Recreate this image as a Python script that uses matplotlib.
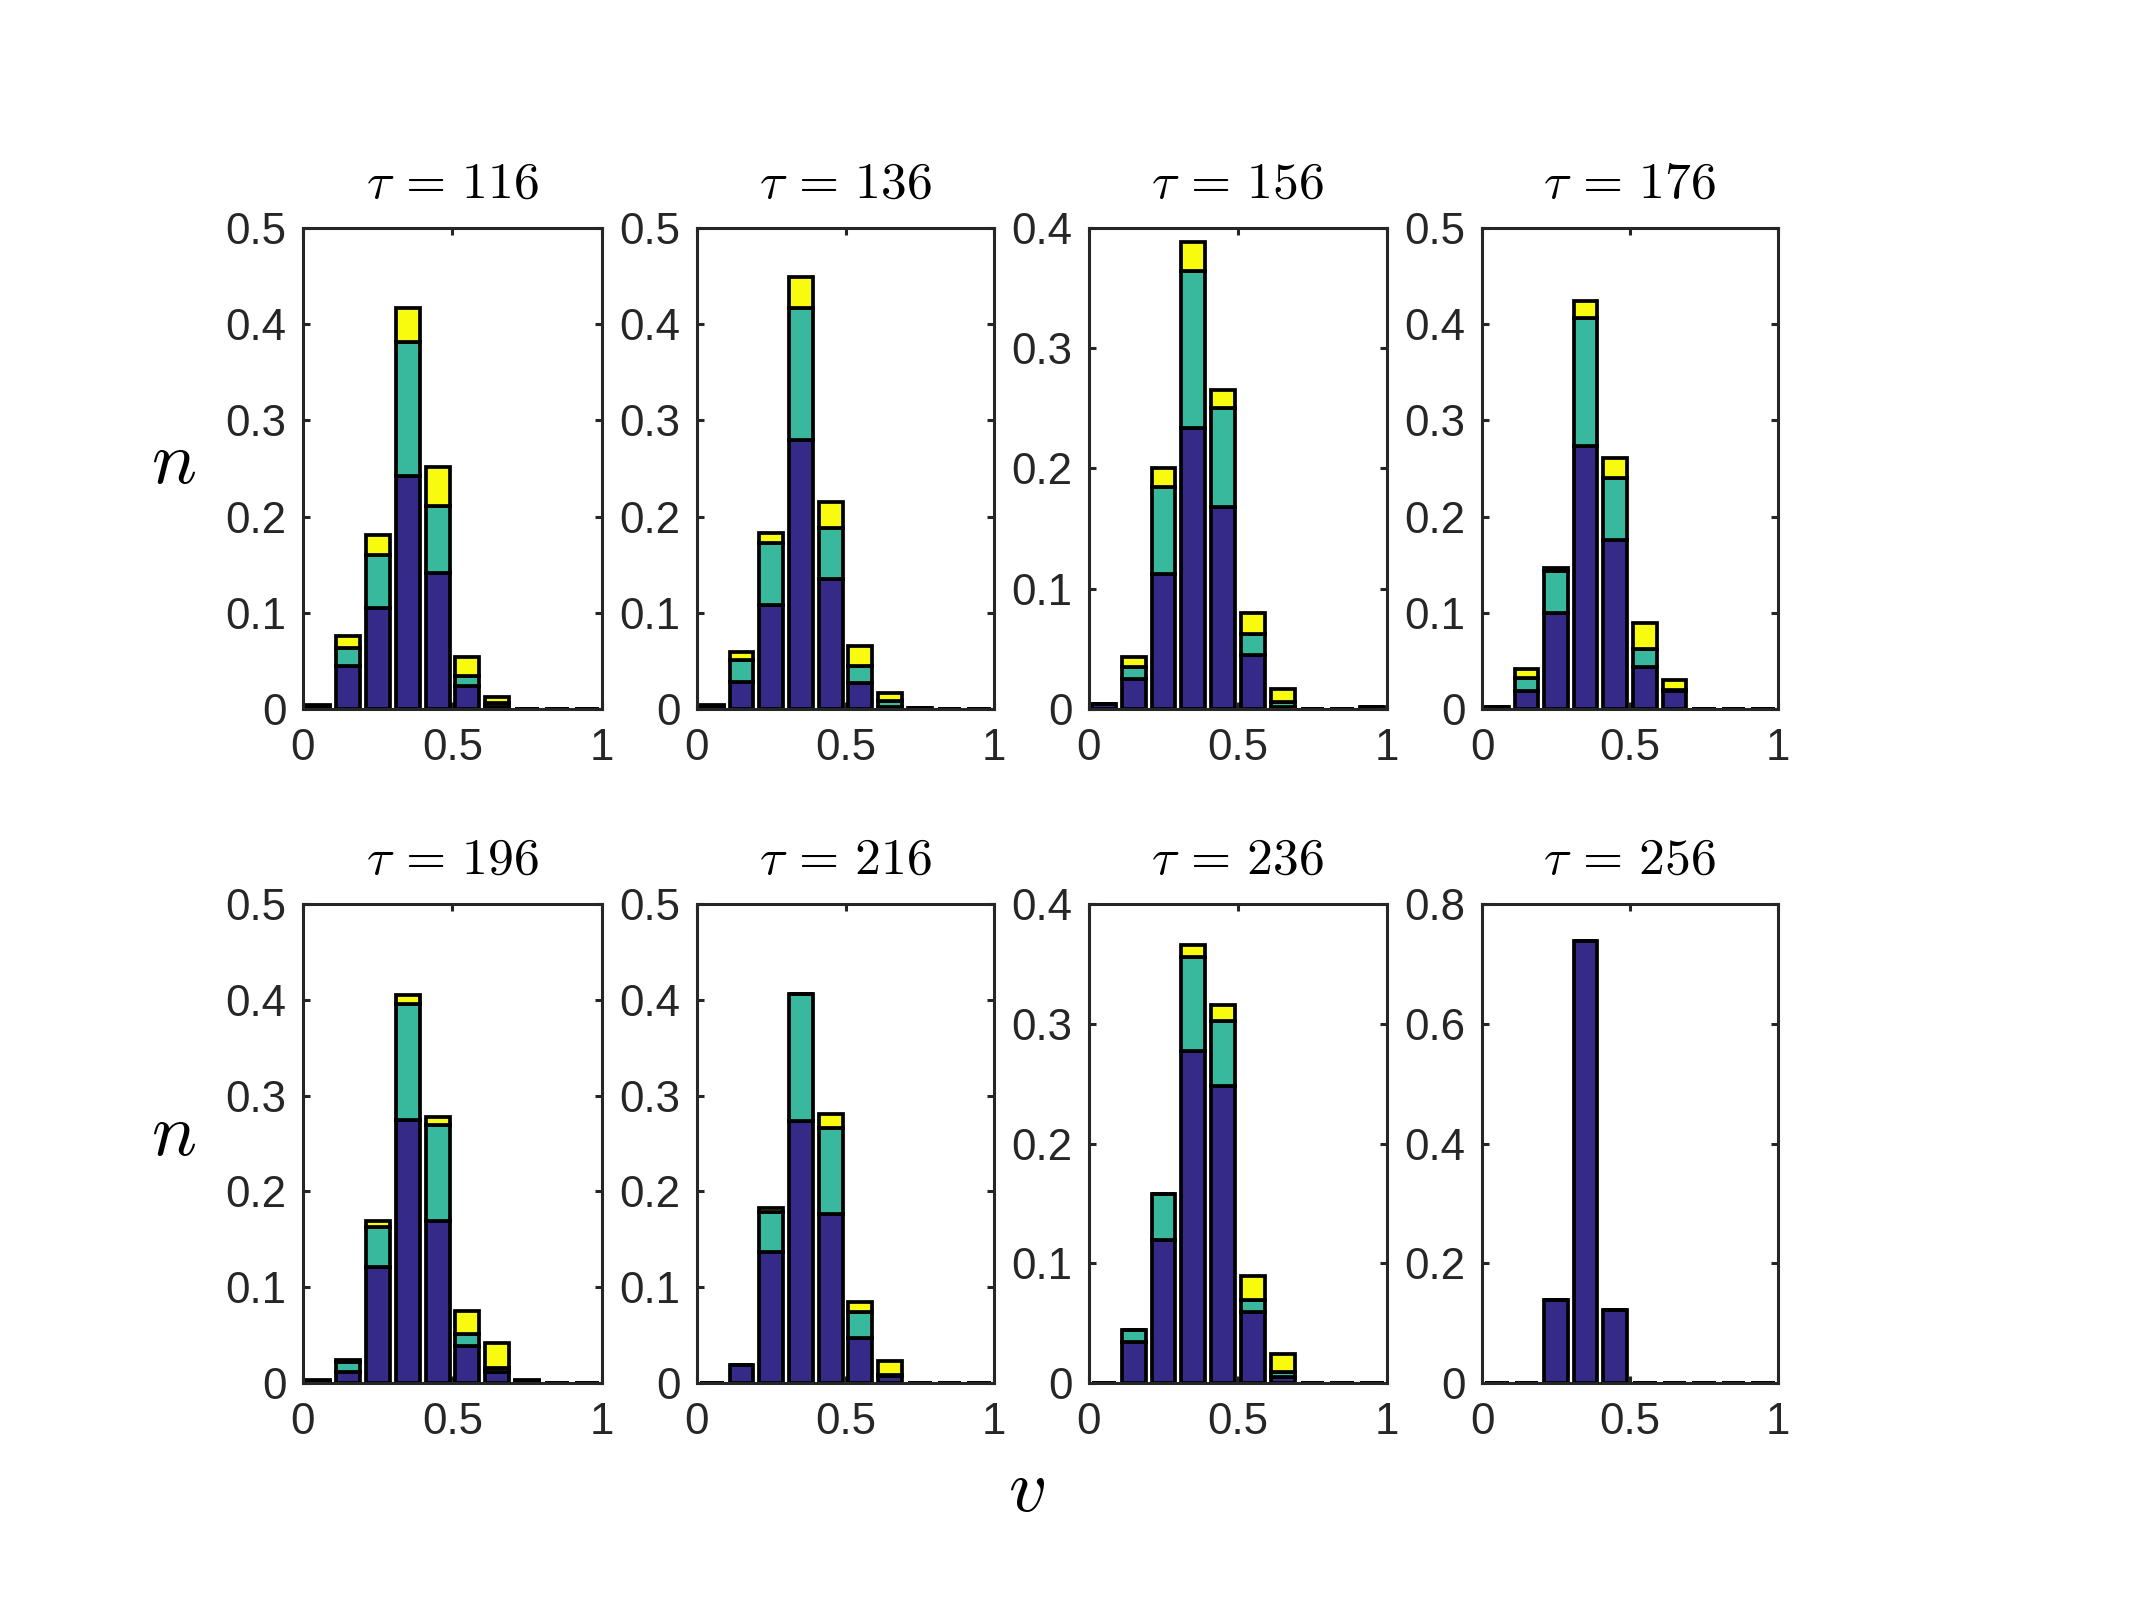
import matplotlib
matplotlib.use("Agg")
import matplotlib.pyplot as plt
import numpy as np
from matplotlib.ticker import FuncFormatter, MultipleLocator

plt.rcParams['font.family'] = ['Liberation Sans', 'DejaVu Sans']
plt.rcParams['mathtext.fontset'] = 'cm'

bin_centers = [0.05, 0.15, 0.25, 0.35, 0.45, 0.55, 0.65, 0.75, 0.85, 0.95]
taus = [116, 136, 156, 176, 196, 216, 236, 256]
ylims = [0.5, 0.5, 0.4, 0.5, 0.5, 0.5, 0.4, 0.8]
ysteps = [0.1, 0.1, 0.1, 0.1, 0.1, 0.1, 0.1, 0.2]

blue_116 = [0.003, 0.045, 0.105, 0.242, 0.141, 0.024, 0.002, 0, 0, 0]
teal_116 = [0.0005, 0.018, 0.055, 0.140, 0.070, 0.010, 0.004, 0, 0, 0]
yellow_116 = [0.0005, 0.013, 0.021, 0.035, 0.041, 0.020, 0.006, 0, 0, 0]

blue_136 = [0.003, 0.028, 0.108, 0.280, 0.135, 0.027, 0.002, 0.001, 0, 0]
teal_136 = [0.0005, 0.023, 0.065, 0.137, 0.053, 0.018, 0.006, 0, 0, 0]
yellow_136 = [0.0005, 0.008, 0.010, 0.032, 0.027, 0.021, 0.009, 0, 0, 0]

blue_156 = [0.004, 0.025, 0.112, 0.234, 0.168, 0.045, 0.002, 0, 0, 0.002]
teal_156 = [0, 0.010, 0.073, 0.130, 0.082, 0.017, 0.004, 0, 0, 0]
yellow_156 = [0, 0.008, 0.015, 0.024, 0.015, 0.018, 0.011, 0, 0, 0]

blue_176 = [0.002, 0.019, 0.100, 0.273, 0.176, 0.044, 0.019, 0, 0, 0]
teal_176 = [0, 0.013, 0.043, 0.133, 0.064, 0.018, 0.001, 0, 0, 0]
yellow_176 = [0, 0.010, 0.004, 0.018, 0.021, 0.027, 0.010, 0, 0, 0]

blue_196 = [0.002, 0.0115, 0.121, 0.275, 0.169, 0.039, 0.0115, 0.002, 0, 0]
teal_196 = [0.0005, 0.0105, 0.042, 0.121, 0.100, 0.012, 0.0045, 0.0005, 0, 0]
yellow_196 = [0.0005, 0.002, 0.006, 0.009, 0.009, 0.024, 0.026, 0.0005, 0, 0]

blue_216 = [0, 0.019, 0.137, 0.274, 0.176, 0.047, 0.007, 0, 0, 0]
teal_216 = [0, 0, 0.042, 0.132, 0.090, 0.027, 0.001, 0, 0, 0]
yellow_216 = [0, 0, 0.004, 0, 0.015, 0.011, 0.015, 0, 0, 0]

blue_236 = [0, 0.034, 0.119, 0.277, 0.248, 0.059, 0.005, 0, 0, 0]
teal_236 = [0, 0.010, 0.039, 0.079, 0.054, 0.010, 0.004, 0, 0, 0]
yellow_236 = [0, 0, 0, 0.010, 0.014, 0.020, 0.015, 0, 0, 0]

blue_256 = [0, 0, 0.139, 0.739, 0.122, 0, 0, 0, 0, 0]
teal_256 = [0, 0, 0, 0, 0, 0, 0, 0, 0, 0]
yellow_256 = [0, 0, 0, 0, 0, 0, 0, 0, 0, 0]

blues = [blue_116, blue_136, blue_156, blue_176, blue_196, blue_216, blue_236, blue_256]
teals = [teal_116, teal_136, teal_156, teal_176, teal_196, teal_216, teal_236, teal_256]
yellows = [yellow_116, yellow_136, yellow_156, yellow_176, yellow_196, yellow_216, yellow_236, yellow_256]

c_blue = '#352A87'
c_teal = '#38B89C'
c_yellow = '#F9FB0E'
axcol = '#262626'

W, H = 2134, 1600
fig = plt.figure(figsize=(W / 200, H / 200), dpi=200)

lefts = [303, 697, 1089, 1482]
widths = [299, 297, 298, 296]
row_tops = [228, 904]
row_bots = [709, 1383]

fmt = FuncFormatter(lambda v, p: ('%g' % round(v, 3)))

for i in range(8):
    r, c = divmod(i, 4)
    l = lefts[c] / W
    w = widths[c] / W
    b = 1 - row_bots[r] / H
    h = (row_bots[r] - row_tops[r]) / H
    ax = fig.add_axes([l, b, w, h])
    x = np.array(bin_centers)
    bl = np.array(blues[i]); te = np.array(teals[i]); ye = np.array(yellows[i])
    kw = dict(width=0.08, edgecolor='black', linewidth=1.35, zorder=2)
    ax.bar(x, bl, color=c_blue, **kw)
    ax.bar(x, te, bottom=bl, color=c_teal, **kw)
    ax.bar(x, ye, bottom=bl + te, color=c_yellow, **kw)
    ax.set_xlim(0, 1)
    ax.set_ylim(0, ylims[i])
    ax.xaxis.set_major_locator(MultipleLocator(0.5))
    ax.yaxis.set_major_locator(MultipleLocator(ysteps[i]))
    ax.xaxis.set_major_formatter(fmt)
    ax.yaxis.set_major_formatter(fmt)
    ax.tick_params(direction='in', length=2.6, width=1.1, color=axcol,
                   labelcolor=axcol, labelsize=15.8, top=True, right=True)
    ax.tick_params(axis='y', pad=6)
    ax.tick_params(axis='x', pad=7)
    for s in ax.spines.values():
        s.set_linewidth(1.1)
        s.set_color(axcol)
        s.set_zorder(3)
    ax.set_title(r'$\tau\, =\, %d$' % taus[i], fontsize=18.6, pad=11, color='black')

fig.text(174 / W, 1 - 463 / H, r'$n$', fontsize=27, ha='center', va='center')
fig.text(174 / W, 1 - 1136 / H, r'$n$', fontsize=27, ha='center', va='center')
fig.text(1027 / W, 1 - 1491 / H, r'$v$', fontsize=27, ha='center', va='center')

fig.savefig('out.png', dpi=200, facecolor='white')
